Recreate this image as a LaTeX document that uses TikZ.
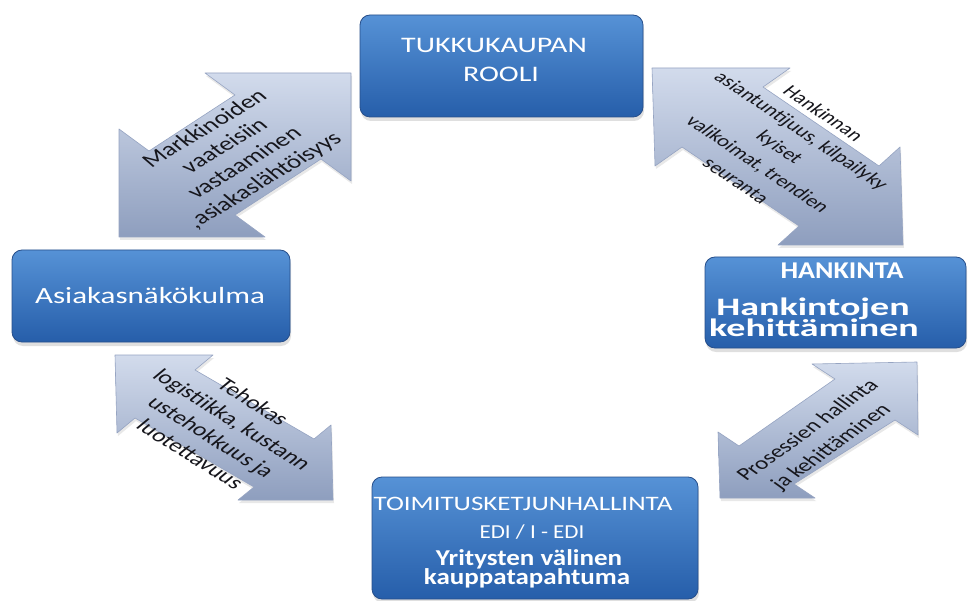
\documentclass[tikz,border=0pt]{standalone}
\usepackage{fontspec}
\setmainfont{Carlito}
\usetikzlibrary{shadows}
\definecolor{boxtop}{RGB}{86,146,214}
\definecolor{boxbot}{RGB}{38,94,170}
\definecolor{boxedge}{RGB}{38,78,138}
\definecolor{arrlight}{RGB}{210,219,236}
\definecolor{arrdark}{RGB}{142,158,190}
\definecolor{arredge}{RGB}{150,164,194}
\definecolor{arrtext}{RGB}{22,22,28}
\tikzset{
  boxshape/.style={draw=boxedge, line width=0.8pt, rounded corners=10pt,
    top color=boxtop, bottom color=boxbot, inner sep=0pt,
    drop shadow={opacity=0.25, shadow xshift=1pt, shadow yshift=-4pt}},
  arrowshape/.style={draw=arredge, line width=0.6pt, line join=round,
    top color=arrlight, bottom color=arrdark,
    drop shadow={opacity=0.18, shadow xshift=1pt, shadow yshift=-3pt}},
  btxt/.style={text=white, inner sep=0pt, anchor=base},
  atxt/.style={text=arrtext, inner sep=0pt, align=center, yscale=0.72}
}
\begin{document}
\begin{tikzpicture}[x=1pt,y=-1pt]
\useasboundingbox[fill=white] (0,0) rectangle (968,601);

% ---- block arrows ----
\path[arrowshape] (351,73) -- (351,181) -- (321,159) -- (235,215) -- (265,237)
  -- (119,237) -- (119,129) -- (149,151) -- (235,95) -- (205,73) -- cycle;
\path[arrowshape] (652,68) -- (790,68) -- (763,87) -- (879,166) -- (900,147)
  -- (903,245) -- (778,245) -- (799,226) -- (682,147) -- (655,166) -- cycle;
\path[arrowshape] (115,355) -- (213,355) -- (195,370) -- (314,439) -- (331,425)
  -- (333,500) -- (238,500) -- (254,487) -- (135,418) -- (117,433) -- cycle;
\path[arrowshape] (917,362) -- (918,435) -- (895,420) -- (794,484) -- (815,498)
  -- (720,498) -- (718,432) -- (739,446) -- (835,379) -- (812,364) -- cycle;

% ---- boxes ----
\node[boxshape, minimum width=283pt, minimum height=102pt] (rooli) at (501.5,66) {};
\node[boxshape, minimum width=278pt, minimum height=92pt] (asiakas) at (151,296) {};
\node[boxshape, minimum width=261pt, minimum height=91pt] (hankinta) at (835.5,302.5) {};
\node[boxshape, minimum width=326pt, minimum height=122pt] (toim) at (535,538) {};

% ---- text anchors ----
\coordinate (pR1) at (494,53);
\coordinate (pR2) at (501,82);
\coordinate (pA1) at (150,303);
\coordinate (pH1) at (842,279);
\coordinate (pH2) at (813,316);
\coordinate (pH3) at (814,336);
\coordinate (pT1) at (523,510);
\coordinate (pT2) at (532,538);
\coordinate (pT3) at (529,565);
\coordinate (pT4) at (527,584);
\coordinate (pa1) at (235,155);
\coordinate (pa2) at (780,147);
\coordinate (pa3) at (222,428);
\coordinate (pa4) at (820,439);

% ---- box texts ----
\node[btxt, yscale=0.74, font=\fontsize{30}{30}\selectfont] (tR1) at (pR1) {TUKKUKAUPAN};
\node[btxt, yscale=0.74, font=\fontsize{30}{30}\selectfont] (tR2) at (pR2) {ROOLI};
\node[btxt, yscale=0.75, font=\fontsize{31}{31}\selectfont] (tA1) at (pA1) {Asiakasnäkökulma};
\node[btxt, yscale=0.86, font=\fontsize{28}{28}\selectfont\bfseries] (tH1) at (pH1) {HANKINTA};
\node[btxt, yscale=0.66, font=\fontsize{38}{38}\selectfont\bfseries] (tH2) at (pH2) {Hankintojen};
\node[btxt, yscale=0.66, font=\fontsize{38}{38}\selectfont\bfseries] (tH3) at (pH3) {kehittäminen};
\node[btxt, yscale=0.76, font=\fontsize{27}{27}\selectfont] (tT1) at (pT1) {TOIMITUSKETJUNHALLINTA};
\node[btxt, yscale=0.86, font=\fontsize{23}{23}\selectfont] (tT2) at (pT2) {EDI / I - EDI};
\node[btxt, yscale=0.84, font=\fontsize{27}{27}\selectfont\bfseries] (tT3) at (pT3) {Yritysten välinen};
\node[btxt, yscale=0.84, font=\fontsize{27}{27}\selectfont\bfseries] (tT4) at (pT4) {kauppatapahtuma};

% ---- arrow texts ----
\node[atxt, rotate=40, font=\fontsize{27}{31}\selectfont] (ta1) at (pa1)
  {Markkinoiden\\vaateisiin\\vastaaminen\\,asiakaslähtöisyys};
\node[atxt, rotate=-43, font=\fontsize{23}{32}\selectfont] (ta2) at (pa2)
  {Hankinnan\\asiantuntijuus, kilpailyky\\kyiset\\valikoimat, trendien\\seuranta};
\node[atxt, rotate=-41, font=\fontsize{26}{32}\selectfont] (ta3) at (pa3)
  {Tehokas\\logistiikka, kustann\\ustehokkuus ja\\luotettavuus};
\node[atxt, rotate=45, font=\fontsize{25}{33}\selectfont] (ta4) at (pa4)
  {Prosessien hallinta\\ja kehittäminen};
\end{tikzpicture}
\end{document}
